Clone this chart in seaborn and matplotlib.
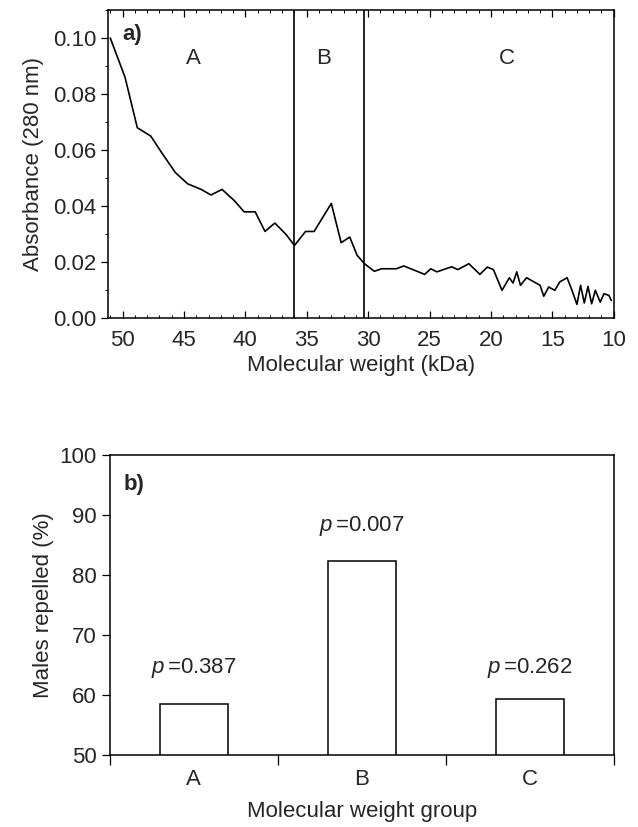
import numpy as np
import pandas as pd
import matplotlib
matplotlib.use("Agg")
import matplotlib.pyplot as plt
from matplotlib.ticker import MultipleLocator
import seaborn as sns

# panel a: absorbance profile
mw_kda = [51.0, 49.8, 48.8, 47.7, 46.8, 45.7, 44.7, 43.6, 42.8, 41.9, 40.9, 40.1,
          39.2, 38.4, 37.6, 36.7, 36.0, 35.1, 34.4, 33.0, 32.2, 31.5, 30.9, 30.3,
          29.5, 28.9, 27.7, 27.1, 25.4, 24.9, 24.4, 23.2, 22.7, 21.8, 20.9, 20.3,
          19.8, 19.1, 18.5, 18.2, 17.9, 17.6, 17.1, 16.0, 15.7, 15.3, 14.8, 14.4,
          13.8, 13.4, 13.0, 12.7, 12.4, 12.1, 11.8, 11.5, 11.1, 10.8, 10.4, 10.2]
absorbance = [0.100, 0.086, 0.068, 0.065, 0.059, 0.052, 0.048, 0.046, 0.044, 0.046,
              0.042, 0.038, 0.038, 0.031, 0.034, 0.030, 0.026, 0.031, 0.031, 0.041,
              0.027, 0.029, 0.0225, 0.0195, 0.0168, 0.0177, 0.0177, 0.0187, 0.0157,
              0.0177, 0.0166, 0.0184, 0.0174, 0.0195, 0.0157, 0.0183, 0.0174, 0.010,
              0.0145, 0.0126, 0.0166, 0.0118, 0.0145, 0.0118, 0.0079, 0.0112, 0.010,
              0.013, 0.0145, 0.010, 0.005, 0.0118, 0.0055, 0.0114, 0.0052, 0.010,
              0.0058, 0.0088, 0.0082, 0.0064]
cut_points = [36.0, 30.3]
region_labels = ["A", "B", "C"]
region_label_x = [44.2, 33.6, 18.7]

# panel b: bioassay
groups = ["A", "B", "C"]
repelled = [58.5, 82.3, 59.3]
p_values = ["0.387", "0.007", "0.262"]

sns.set_theme(style="white")
plt.rcParams["font.family"] = ["Liberation Sans", "DejaVu Sans"]
plt.rcParams["font.size"] = 16
plt.rcParams["mathtext.fontset"] = "custom"
plt.rcParams["mathtext.it"] = "Liberation Sans:italic"

FS = 16

fig = plt.figure(figsize=(6.38, 8.27), dpi=100)
ax1 = fig.add_axes([0.169, 0.615, 0.793, 0.373])
ax2 = fig.add_axes([0.172, 0.087, 0.790, 0.363])

df_a = pd.DataFrame({"mw": mw_kda, "abs": absorbance})
sns.lineplot(data=df_a, x="mw", y="abs", ax=ax1, color="black", lw=1.2,
             sort=False, estimator=None)
for c in cut_points:
    ax1.axvline(c, color="black", lw=1.2)
for lab, xx in zip(region_labels, region_label_x):
    ax1.text(xx, 0.0925, lab, ha="center", va="center", fontsize=FS)
ax1.text(0.028, 0.955, "a)", transform=ax1.transAxes, fontsize=FS,
         fontweight="bold", ha="left", va="top")
ax1.set_xlim(51.2, 10)
ax1.set_ylim(0, 0.11)
ax1.set_xticks([50, 45, 40, 35, 30, 25, 20, 15, 10])
ax1.set_yticks([0.0, 0.02, 0.04, 0.06, 0.08, 0.10])
ax1.set_yticklabels(["0.00", "0.02", "0.04", "0.06", "0.08", "0.10"])
ax1.xaxis.set_minor_locator(MultipleLocator(1))
ax1.yaxis.set_minor_locator(MultipleLocator(0.01))
ax1.tick_params(axis="x", which="both", direction="in", top=True, bottom=True,
                labelsize=FS, color="black", pad=8)
ax1.tick_params(axis="y", which="both", direction="out", left=True, right=False,
                labelsize=FS, color="black")
ax1.tick_params(which="major", length=5, width=0.9)
ax1.tick_params(which="minor", length=2.5, width=0.7)
ax1.set_xlabel("Molecular weight (kDa)", fontsize=FS, labelpad=3)
ax1.set_ylabel("Absorbance (280 nm)", fontsize=FS, labelpad=6)
for s in ax1.spines.values():
    s.set_color("black")
    s.set_linewidth(1.1)

df_b = pd.DataFrame({"group": groups, "rep": repelled})
sns.barplot(data=df_b, x="group", y="rep", ax=ax2, color="white",
            edgecolor="black", linewidth=1.1, width=0.405, saturation=1)
for i, (v, p) in enumerate(zip(repelled, p_values)):
    ypos = 64.5 if i != 1 else 88.2
    ax2.text(i, ypos, r"$\it{p}\,$" + "=" + p, ha="center", va="center", fontsize=FS)
ax2.text(0.028, 0.9, "b)", transform=ax2.transAxes, fontsize=FS,
         fontweight="bold", ha="left", va="center")
ax2.set_xlim(-0.5, 2.5)
ax2.set_ylim(50, 100)
ax2.set_yticks([50, 60, 70, 80, 90, 100])
ax2.set_xticks([-0.5, 0.5, 1.5, 2.5], minor=False)
ax2.set_xticklabels([])
ax2.set_xticks([0, 1, 2], minor=True)
ax2.set_xticklabels(groups, minor=True)
ax2.tick_params(axis="x", which="minor", length=0, labelsize=FS, pad=10)
ax2.tick_params(axis="x", which="major", direction="out", length=7,
                width=0.9, bottom=True, color="black")
ax2.tick_params(axis="y", direction="out", length=6, width=0.9, left=True,
                labelsize=FS, color="black")
ax2.set_xlabel("Molecular weight group", fontsize=FS, labelpad=8)
ax2.set_ylabel("Males repelled (%)", fontsize=FS)
for s in ax2.spines.values():
    s.set_color("black")
    s.set_linewidth(1.1)

fig.savefig("out.png", dpi=100)
